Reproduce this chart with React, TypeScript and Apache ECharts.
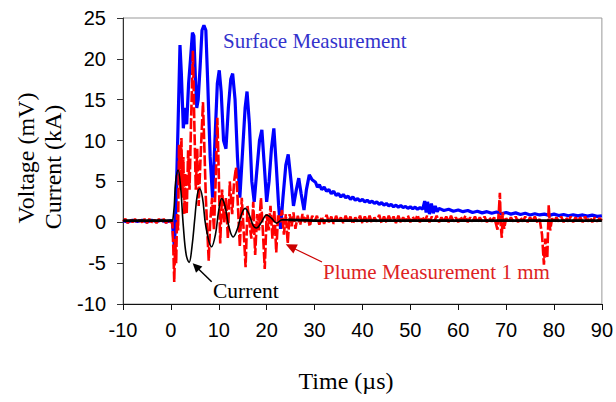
import React, { useEffect, useRef } from "react";
import * as echarts from "echarts";

// Axis ranges and ticks
const xTicks = [-10, 0, 10, 20, 30, 40, 50, 60, 70, 80, 90];
const yTicks = [-10, -5, 0, 5, 10, 15, 20, 25];

// Surface Measurement (mV), [time µs, value]
const surfaceData: number[][] = [
  [-10, 0.2], [-9, 0.05], [-8, 0.25], [-7, 0.1], [-6, 0.25], [-5, 0.05], [-4, 0.25], [-3, 0.1], [-2, 0.25], [-1, 0.05], [0, 0.2], [0.3, 0.1],
  [0.5, -1.5], [0.7, -2.8], [0.9, -1.0], [1.2, 5], [1.5, 12], [1.9, 21.7], [2.2, 18], [2.6, 11.5], [2.9, 14], [3.3, 12],
  [3.7, 17], [4.1, 20], [4.5, 23.2], [4.8, 22.8], [5.1, 18], [5.4, 14], [5.7, 15], [6.1, 19], [6.5, 23.5], [6.9, 24.1],
  [7.3, 23.5], [7.7, 17], [8.2, 8], [8.7, 3], [9.2, 10], [9.7, 17], [10.1, 18.6], [10.5, 16], [11.0, 10], [11.5, 9],
  [12.0, 14], [12.5, 17.5], [12.9, 18.2], [13.4, 15], [13.9, 8], [14.4, 3], [14.9, 8], [15.5, 14], [15.9, 16], [16.4, 12],
  [16.9, 5], [17.4, 2.5], [17.9, 6], [18.5, 10], [19.0, 11.3], [19.5, 7], [20.0, 2.5], [20.5, 5], [21.0, 9], [21.5, 11.5],
  [22.0, 7], [22.5, 2], [22.9, -0.8], [23.4, 3], [24.0, 7], [24.5, 8.3], [25.1, 5], [25.6, 2], [26.2, 4], [26.7, 5.4],
  [27.2, 3.5], [27.8, 1.5], [28.3, 4], [28.9, 5.8], [29.5, 5.2], [30.2, 4.9], [30.6, 4.3], [31, 4.6], [31.5, 4.0], [32, 4.3],
  [32.5, 3.8], [33, 4.0], [33.5, 3.5], [34, 3.8], [34.5, 3.3], [35, 3.5], [35.5, 3.1], [36, 3.4], [36.5, 3.0], [37, 3.2],
  [37.5, 2.8], [38, 3.1], [38.5, 2.7], [39, 2.9], [39.5, 2.6], [40, 2.8], [40.5, 2.5], [41, 2.7], [41.5, 2.4], [42, 2.6],
  [42.5, 2.3], [43, 2.5], [43.5, 2.2], [44, 2.4], [44.5, 2.1], [45, 2.3], [45.5, 2.0], [46, 2.2], [46.5, 1.9], [47, 2.1],
  [47.5, 1.85], [48, 2.05], [48.5, 1.8], [49, 1.95], [49.5, 1.7], [50, 1.9], [50.5, 1.65], [51, 1.85], [51.5, 1.6],
  [52, 1.8], [52.6, 1.6], [53.0, 2.6], [53.3, 1.2], [53.6, 2.5], [54.0, 1.0], [54.4, 2.3], [54.8, 1.1], [55.2, 2.0],
  [55.6, 1.3], [56, 1.7], [57, 1.45], [58, 1.6], [59, 1.35], [60, 1.5], [61, 1.3], [62, 1.45], [63, 1.2], [64, 1.35],
  [65, 1.15], [66, 1.3], [67, 1.1], [68, 1.25], [69, 1.05], [70, 1.2], [71, 1.0], [72, 1.15], [73, 0.95], [74, 1.1],
  [75, 0.9], [76, 1.05], [77, 0.9], [78, 1.0], [79, 0.85], [80, 1.0], [81, 0.82], [82, 0.95], [83, 0.8], [84, 0.92],
  [85, 0.78], [86, 0.9], [87, 0.75], [88, 0.88], [89, 0.72], [90, 0.8]
];

// Plume Measurement 1 mm (mV)
const plumeData: number[][] = [
  [-10, 0.1], [-9.5, 0.4], [-9, -0.1], [-8.5, 0.4], [-8, 0], [-7.5, 0.4], [-7, -0.1], [-6.5, 0.3], [-6, 0], [-5.5, 0.4],
  [-5, -0.1], [-4.5, 0.4], [-4, 0], [-3.5, 0.3], [-3, -0.1], [-2.5, 0.4], [-2, 0], [-1.5, 0.4], [-1, -0.1], [-0.5, 0.3], [0, 0], [0.3, 0.1],
  [0.5, -3], [0.7, -7.3], [0.9, -2], [1.1, -5], [1.3, 1], [1.5, -1], [1.7, 9.5], [1.9, 4], [2.2, 10.3], [2.4, 3], [2.6, 8],
  [2.8, 1], [3.0, 6], [3.3, 1], [3.6, 8.8], [3.9, 4], [4.2, 12], [4.6, 21], [4.9, 12], [5.2, 4], [5.5, 9], [5.8, 2],
  [6.2, 8], [6.7, 14.7], [7.0, 9], [7.3, 3], [7.6, -1], [7.9, -4.7], [8.2, 0], [8.6, 3], [9.0, -1], [9.4, 6], [9.7, 12.8],
  [10.0, 6], [10.3, -2.6], [10.7, 4], [11.1, 0], [11.5, 3], [11.9, -2], [12.3, 5], [12.8, 1], [13.2, 5], [13.6, 6.7],
  [14.0, 2], [14.4, -3], [14.8, 3], [15.2, -1], [15.6, -5.5], [16.0, 2], [16.4, 0], [16.8, -2], [17.2, 2.5], [17.6, -4],
  [18.0, 1], [18.4, -1], [18.8, 3], [19.2, -1], [19.6, -5.7], [20.0, 1], [20.4, -1], [20.8, 2], [21.2, -2], [21.6, 1.5],
  [22.0, -3.7], [22.4, 1], [22.8, 0], [23.2, 1.5], [23.6, -1.5], [24.0, 1], [24.4, -2.6], [24.8, 1], [25.2, -0.5],
  [25.6, 1.2], [26, -0.8], [26.5, 0.8], [27, -0.3], [27.5, 1.0], [28, 0], [28.5, 0.9], [29, -0.5], [29.5, 0.8], [30, 0.1],
  [30.5, 0.8], [31, -0.3], [31.5, 0.7], [32, -0.2], [32.5, 0.9], [33, 0], [33.5, 0.7], [34, -0.2], [34.5, 0.8], [35, 0],
  [35.5, 0.6], [36, -0.1], [36.5, 0.8], [37, 0], [37.5, 0.7], [38, -0.2], [38.5, 0.6], [39, 0.1], [39.5, 0.8], [40, -0.1],
  [40.5, 0.7], [41, 0], [41.5, 0.8], [42, -0.1], [42.5, 0.6], [43, 0.1], [43.5, 0.9], [44, -0.1], [44.5, 0.7], [45, 0],
  [45.5, 0.8], [46, 0.1], [46.5, 0.7], [47, -0.1], [47.5, 0.8], [48, 0], [48.5, 0.6], [49, 0.1], [49.5, 0.8], [50, 0],
  [50.5, 0.7], [51, 0.1], [51.5, 0.9], [52, 0], [52.5, 0.7], [53, 0.1], [53.5, 0.8], [54, 0], [54.5, 0.7], [55, 0.1],
  [55.5, 0.8], [56, 0], [56.5, 0.6], [57, 0.1], [57.5, 0.7], [58, 0], [58.5, 0.8], [59, 0.1], [59.5, 0.6], [60, 0],
  [60.5, 0.7], [61, 0.1], [61.5, 0.8], [62, 0], [62.5, 0.6], [63, 0.1], [63.5, 0.7], [64, 0], [64.5, 0.6], [65, 0.1],
  [65.5, 0.7], [66, 0], [66.5, 0.6], [67, 0.1], [67.5, 0.6], [67.8, 0], [68.2, -0.9], [68.5, 1.5],
  [68.7, 3.6], [68.9, -0.5], [69.1, -1.9], [69.3, 1.2], [69.6, -0.8], [70, 0.5], [70.5, 0], [71, 0.6], [71.5, 0.1],
  [72, 0.7], [72.5, 0], [73, 0.6], [73.5, 0.1], [74, 0.7], [74.5, 0], [75, 0.6], [75.5, 0.1], [76, 0.7], [76.5, 0],
  [77, 0.4], [77.5, -1.5], [77.9, -5.2], [78.2, -2], [78.6, -4.4], [78.9, 2.1], [79.2, -1], [79.6, 0.5],
  [80, 0], [80.5, 0.6], [81, 0.1], [81.5, 0.7], [82, 0], [82.5, 0.6], [83, 0.1], [83.5, 0.7], [84, 0], [84.5, 0.6],
  [85, 0.1], [85.5, 0.6], [86, 0], [86.5, 0.7], [87, 0.1], [87.5, 0.6], [88, 0], [88.5, 0.6], [89, 0.1], [89.5, 0.5], [90, 0.2]
];

// Current (kA): baseline before the pulse, the ringing pulse, and the tail
const currentBefore: number[][] = [
  [-10, 0.2], [-8, 0.2], [-6, 0.2], [-4, 0.2], [-2, 0.2], [0, 0.2], [0.4, 0.2]
];
const currentPulse: number[][] = [
  [0.4, 0.2], [0.7, 2], [1.0, 5], [1.5, 6.4],
  [2.0, 4.5], [2.6, -0.5], [3.2, -4], [3.8, -4.9], [4.4, -3], [5.0, 0.5], [5.5, 3.3], [6.0, 4.1], [6.6, 3], [7.3, -0.5],
  [8.5, -3.0], [9.3, -1.5], [10.0, 1.5], [10.6, 2.9], [11.3, 2], [12.1, -0.5], [13.0, -1.8], [13.9, -0.8], [14.7, 0.9],
  [15.5, 1.7], [16.3, 1], [17.2, -0.4], [17.9, -0.7], [18.9, 0], [20.0, 0.9], [21.0, 0.5], [22.1, -0.1], [23.2, 0.3],
  [24.5, 0.3]
];
const currentTail: number[][] = [
  [24.5, 0.3], [30, 0.2], [40, 0.2], [50, 0.2], [60, 0.2], [70, 0.2], [80, 0.2], [90, 0.2]
];

const SERIF = "Liberation Serif";
const SANS = "Liberation Sans";

export default function App() {
  const ref = useRef<HTMLDivElement>(null);
  useEffect(() => {
    if (!ref.current) return;
    const chart = echarts.init(ref.current, undefined, { renderer: "svg" });
    chart.setOption({
      animation: false,
      backgroundColor: "#fff",
      grid: { left: 123, right: 14, top: 18, bottom: 98, show: true, borderColor: "#999", borderWidth: 1 },
      xAxis: {
        type: "value",
        min: xTicks[0],
        max: xTicks[xTicks.length - 1],
        interval: 10,
        axisLine: { onZero: false, lineStyle: { color: "#111", width: 1 } },
        axisTick: { length: 6, lineStyle: { color: "#111" } },
        axisLabel: { fontFamily: SANS, fontSize: 20, color: "#000", margin: 16 },
        splitLine: { show: false },
      },
      yAxis: {
        type: "value",
        min: yTicks[0],
        max: yTicks[yTicks.length - 1],
        interval: 5,
        axisLine: { show: true, onZero: false, lineStyle: { color: "#333", width: 1 } },
        axisTick: { show: true, length: 6, lineStyle: { color: "#333" } },
        axisLabel: { fontFamily: SANS, fontSize: 20, color: "#000", margin: 17 },
        splitLine: { show: false },
      },
      series: [
        {
          name: "Surface Measurement",
          type: "line",
          data: surfaceData,
          showSymbol: false,
          lineStyle: { color: "#0000ff", width: 3.2 },
          z: 2,
        },
        {
          name: "Plume Measurement 1 mm",
          type: "line",
          data: plumeData,
          showSymbol: false,
          lineStyle: { color: "#ff0000", width: 2.6, type: [11, 2.5] },
          z: 3,
        },
        {
          name: "Current",
          type: "line",
          data: currentBefore,
          showSymbol: false,
          lineStyle: { color: "#000", width: 2.6 },
          z: 4,
        },
        {
          name: "Current",
          type: "line",
          data: currentPulse,
          showSymbol: false,
          smooth: 0.4,
          lineStyle: { color: "#000", width: 1.6 },
          z: 4,
        },
        {
          name: "Current",
          type: "line",
          data: currentTail,
          showSymbol: false,
          lineStyle: { color: "#000", width: 2.6 },
          z: 4,
        },
      ],
      graphic: [
        { type: "text", left: 223, top: 30, style: { text: "Surface Measurement", fontFamily: SERIF, fontSize: 21, fill: "#3333cc" } },
        { type: "text", left: 323, top: 261, style: { text: "Plume Measurement 1 mm", fontFamily: SERIF, fontSize: 21, fill: "#dd2222" } },
        { type: "text", left: 213, top: 280, style: { text: "Current", fontFamily: SERIF, fontSize: 21.5, fill: "#000" } },
        { type: "line", shape: { x1: 211.7, y1: 281.7, x2: 198, y2: 268.5 }, style: { stroke: "#000", lineWidth: 1.5 } },
        { type: "polygon", shape: { points: [[192.7, 263.3], [202.4, 266.4], [196.0, 272.8]] }, style: { fill: "#000" } },
        { type: "line", shape: { x1: 322, y1: 262, x2: 294, y2: 248.5 }, style: { stroke: "#cc0000", lineWidth: 1.2 } },
        { type: "polygon", shape: { points: [[285.7, 244.3], [297.8, 244.6], [293.4, 253.6]] }, style: { fill: "#cc0000" } },
        {
          type: "text", x: 346, y: 381,
          style: { text: "Time (µs)", fontFamily: SERIF, fontSize: 24, fill: "#000", align: "center", verticalAlign: "middle" },
        },
        {
          type: "text", x: 26, y: 158, rotation: Math.PI / 2,
          style: { text: "Voltage (mV)", fontFamily: SERIF, fontSize: 24, fill: "#000", align: "center", verticalAlign: "middle" },
        },
        {
          type: "text", x: 53, y: 167, rotation: Math.PI / 2,
          style: { text: "Current (kA)", fontFamily: SERIF, fontSize: 24, fill: "#000", align: "center", verticalAlign: "middle" },
        },
      ],
    });
    return () => chart.dispose();
  }, []);
  return <div ref={ref} style={{ width: 616, height: 402, position: "absolute", left: 0, top: 0 }} />;
}
